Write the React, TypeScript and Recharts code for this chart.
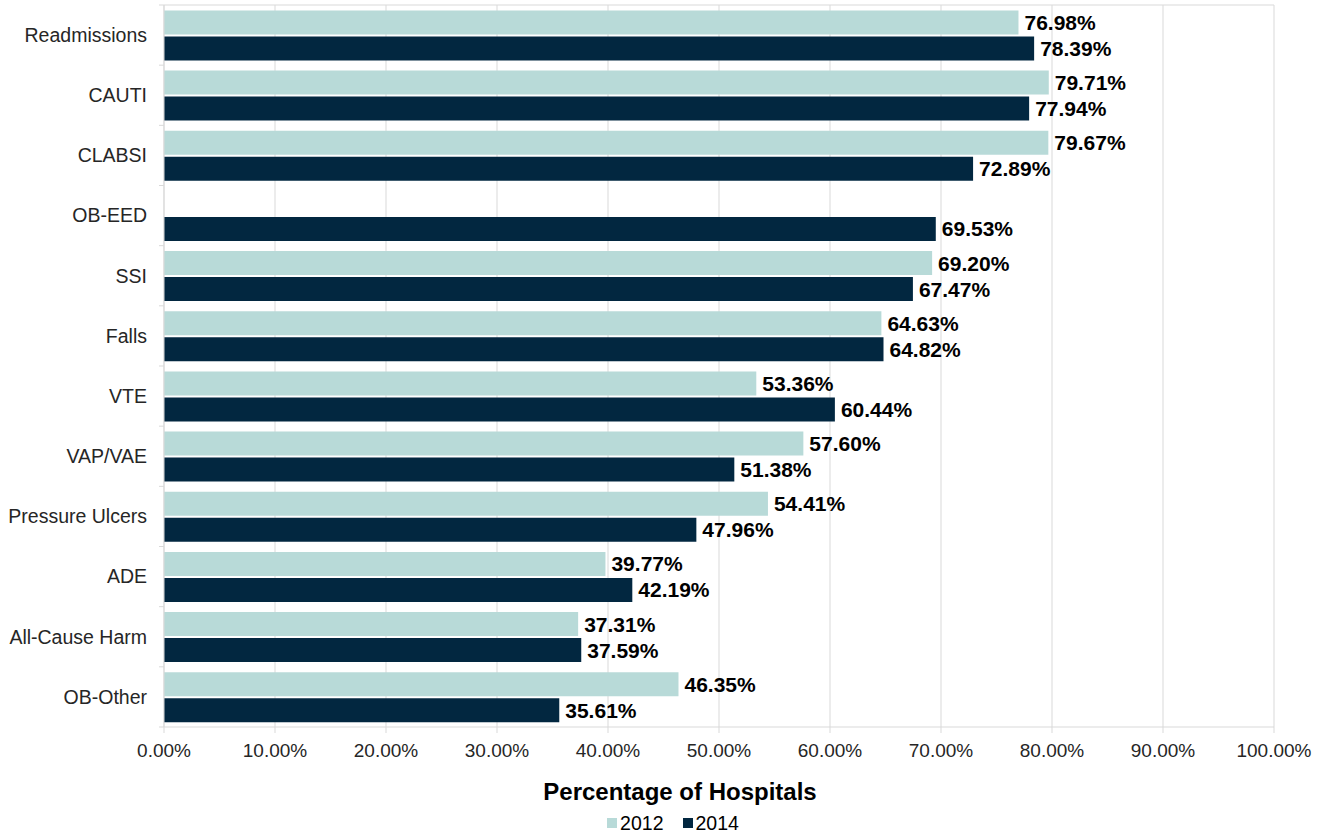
import { BarChart, Bar, XAxis, YAxis, CartesianGrid, Legend, LabelList, ReferenceLine, Label } from 'recharts';

const categories = [
  'Readmissions',
  'CAUTI',
  'CLABSI',
  'OB-EED',
  'SSI',
  'Falls',
  'VTE',
  'VAP/VAE',
  'Pressure Ulcers',
  'ADE',
  'All-Cause Harm',
  'OB-Other',
];
const values2012: Array<number | null> = [76.98, 79.71, 79.67, null, 69.2, 64.63, 53.36, 57.6, 54.41, 39.77, 37.31, 46.35];
const values2014: Array<number | null> = [78.39, 77.94, 72.89, 69.53, 67.47, 64.82, 60.44, 51.38, 47.96, 42.19, 37.59, 35.61];
const xTicks = [0, 10, 20, 30, 40, 50, 60, 70, 80, 90, 100];

const data = categories.map((name, i) => ({ name, y2012: values2012[i], y2014: values2014[i] }));

const W = 1325;
const H = 836;
const MARGIN = { top: 5, right: 51, bottom: 0, left: 0 };
const X_AXIS_H = 83;
const LEGEND_H = 26;
const PLOT_H = H - MARGIN.top - MARGIN.bottom - X_AXIS_H - LEGEND_H;
const BAND = PLOT_H / categories.length;

const LIGHT = '#b8dad8';
const DARK = '#022740';
const GRID = '#d9d9d9';
const FONT = '"Liberation Sans", Arial, sans-serif';

function CategoryTick(props: any) {
  const { x, y, payload, index } = props;
  const axisX = x + 17;
  return (
    <g>
      <line x1={axisX - 5} x2={axisX} y1={y - BAND / 2} y2={y - BAND / 2} stroke={GRID} />
      {index === categories.length - 1 && (
        <line x1={axisX - 5} x2={axisX} y1={y + BAND / 2} y2={y + BAND / 2} stroke={GRID} />
      )}
      <text x={x} y={y} dy="0.35em" textAnchor="end" fontSize={19.5} fill="#262626" fontFamily={FONT}>
        {payload.value}
      </text>
    </g>
  );
}

function ValueLabel(props: any) {
  const { x, y, width, height, value } = props;
  if (value === null || value === undefined) return null;
  return (
    <text
      x={x + width + 6}
      y={y + height / 2}
      dy="0.36em"
      fontSize={21}
      fontWeight="bold"
      fill="#000"
      fontFamily={FONT}
    >
      {`${Number(value).toFixed(2)}%`}
    </text>
  );
}

function LegendContent() {
  const items = [
    { label: '2012', color: LIGHT },
    { label: '2014', color: DARK },
  ];
  return (
    <div
      style={{
        display: 'flex',
        justifyContent: 'center',
        alignItems: 'center',
        height: LEGEND_H,
        marginLeft: 72,
        fontFamily: FONT,
        fontSize: 19.5,
        color: '#000',
      }}
    >
      {items.map((it, i) => (
        <div key={it.label} style={{ display: 'flex', alignItems: 'center', marginLeft: i === 0 ? 0 : 19 }}>
          <span style={{ width: 10, height: 10, background: it.color, marginRight: 3, display: 'inline-block' }} />
          <span>{it.label}</span>
        </div>
      ))}
    </div>
  );
}

export default function App() {
  return (
    <div style={{ position: 'absolute', left: 0, top: 0, width: W, height: H, background: '#fff' }}>
      <BarChart
        width={W}
        height={H}
        data={data}
        layout="vertical"
        margin={MARGIN}
        barCategoryGap="9%"
        barGap={2}
        style={{ fontFamily: FONT }}
      >
        <CartesianGrid horizontal={false} stroke={GRID} />
        <XAxis
          type="number"
          domain={[0, 100]}
          ticks={xTicks}
          tickFormatter={(v: number) => `${v.toFixed(2)}%`}
          height={X_AXIS_H}
          axisLine={{ stroke: GRID }}
          tickLine={{ stroke: GRID }}
          tickSize={6}
          tickMargin={11}
          tick={{ fontSize: 19, fill: '#262626', fontFamily: FONT }}
          interval={0}
        >
          <Label
            value="Percentage of Hospitals"
            position="insideBottom"
            offset={10}
            dx={-39}
            style={{ fontSize: 24, fontWeight: 'bold', fill: '#000', fontFamily: FONT }}
          />
        </XAxis>
        <YAxis
          type="category"
          dataKey="name"
          width={164}
          axisLine={{ stroke: GRID }}
          tickLine={false}
          tickSize={5}
          tickMargin={12}
          tick={<CategoryTick />}
          interval={0}
        />
        <ReferenceLine y="Readmissions" position="start" stroke={GRID} />
        <Legend verticalAlign="bottom" height={LEGEND_H} content={<LegendContent />} />
        <Bar dataKey="y2012" name="2012" fill={LIGHT} isAnimationActive={false}>
          <LabelList dataKey="y2012" content={<ValueLabel />} />
        </Bar>
        <Bar dataKey="y2014" name="2014" fill={DARK} isAnimationActive={false}>
          <LabelList dataKey="y2014" content={<ValueLabel />} />
        </Bar>
      </BarChart>
    </div>
  );
}
